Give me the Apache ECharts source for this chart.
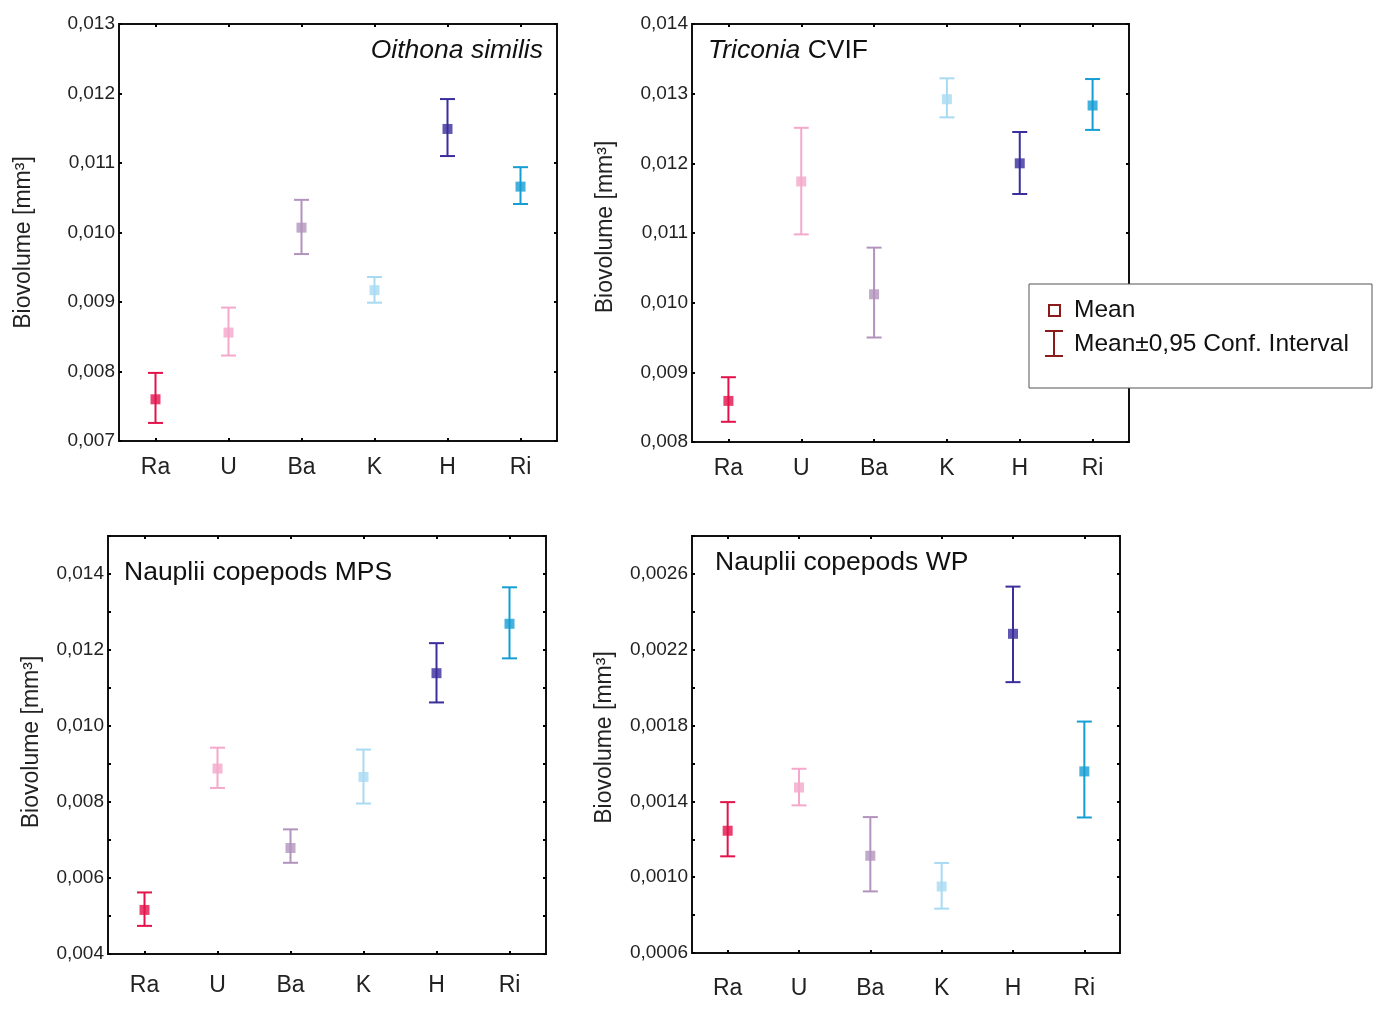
<!DOCTYPE html>
<html><head><meta charset="utf-8">
<script src="https://cdn.jsdelivr.net/npm/echarts@6/dist/echarts.min.js"></script>
<style>html,body{margin:0;background:#fff}#c{width:1373px;height:1009px}</style>
</head><body><div id="c"></div><script>
// ---- data ----
const categories = ['Ra', 'U', 'Ba', 'K', 'H', 'Ri'];
const catColors = ['#e3124b', '#f4a8cb', '#b193bd', '#a8daf2', '#3a2d9c', '#159ed4'];

const oithonaMean = [0.00760, 0.00856, 0.01007, 0.00917, 0.01149, 0.01066];
const oithonaLow  = [0.00726, 0.00823, 0.00969, 0.00899, 0.01110, 0.01041];
const oithonaHigh = [0.00798, 0.00892, 0.01047, 0.00936, 0.01192, 0.01094];

const triconiaMean = [0.00859, 0.01174, 0.01012, 0.01292, 0.01200, 0.01283];
const triconiaLow  = [0.00829, 0.01098, 0.00950, 0.01266, 0.01156, 0.01248];
const triconiaHigh = [0.00893, 0.01251, 0.01079, 0.01322, 0.01245, 0.01321];

const mpsMean = [0.00516, 0.00888, 0.00679, 0.00866, 0.01139, 0.01269];
const mpsLow  = [0.00474, 0.00837, 0.00640, 0.00796, 0.01062, 0.01178];
const mpsHigh = [0.00562, 0.00943, 0.00728, 0.00938, 0.01218, 0.01365];

const wpMean = [0.001245, 0.001473, 0.001113, 0.000951, 0.002284, 0.001558];
const wpLow  = [0.001110, 0.001379, 0.000925, 0.000834, 0.002029, 0.001315];
const wpHigh = [0.001396, 0.001572, 0.001317, 0.001075, 0.002533, 0.001821];

const yAxisName = 'Biovolume [mm³]';
const legendLabels = ['Mean', 'Mean±0,95 Conf. Interval'];

// ---- layout ----
const FONT = "'Liberation Sans', Arial, sans-serif";
const panels = [
  { mean: oithonaMean, low: oithonaLow, high: oithonaHigh,
    grid: { left: 119, top: 24, width: 438, height: 417 },
    y: { min: 0.007, max: 0.013, interval: 0.001 }, nameGap: 84, namePad: [0, 20, 0, 0], xMargin: 15,
    fmt: v => v.toFixed(3).replace('.', ',') },
  { mean: triconiaMean, low: triconiaLow, high: triconiaHigh,
    grid: { left: 692, top: 24, width: 437, height: 418 },
    y: { min: 0.008, max: 0.014, interval: 0.001 }, nameGap: 75, namePad: [0, 0, 0, 12], xMargin: 15,
    fmt: v => v.toFixed(3).replace('.', ',') },
  { mean: mpsMean, low: mpsLow, high: mpsHigh,
    grid: { left: 108, top: 536, width: 438, height: 418 },
    y: { min: 0.004, max: 0.015, interval: 0.001 }, nameGap: 65, namePad: [0, 0, 0, 6], xMargin: 20,
    fmt: v => (Math.round(v * 1000) % 2 === 0) ? v.toFixed(3).replace('.', ',') : '' },
  { mean: wpMean, low: wpLow, high: wpHigh,
    grid: { left: 692, top: 536, width: 428, height: 417 },
    y: { min: 0.0006, max: 0.0028, interval: 0.0002 }, nameGap: 76, namePad: [0, 0, 0, 14], xMargin: 24,
    fmt: v => (Math.round(v * 10000) % 4 === 2) ? v.toFixed(4).replace('.', ',') : '' }
];

const grids = [], xAxes = [], yAxes = [], series = [];
const tick = { show: true, inside: true, length: 3, lineStyle: { color: '#000', width: 2 } };

function renderErr(params, api) {
  const x = api.value(0), lo = api.value(1), hi = api.value(2);
  const pLo = api.coord([x, lo]), pHi = api.coord([x, hi]);
  const hw = 7.5;
  const style = { stroke: api.visual('color'), lineWidth: 2 };
  return { type: 'group', children: [
    { type: 'line', shape: { x1: pLo[0], y1: pLo[1], x2: pHi[0], y2: pHi[1] }, style },
    { type: 'line', shape: { x1: pLo[0] - hw, y1: pLo[1], x2: pLo[0] + hw, y2: pLo[1] }, style },
    { type: 'line', shape: { x1: pHi[0] - hw, y1: pHi[1], x2: pHi[0] + hw, y2: pHi[1] }, style }
  ]};
}

panels.forEach((p, i) => {
  grids.push(Object.assign({ show: true, borderColor: '#111', borderWidth: 2, backgroundColor: 'transparent' }, p.grid));
  xAxes.push({ type: 'category', gridIndex: i, data: categories, position: 'bottom',
    axisLine: { show: false }, axisTick: Object.assign({ alignWithLabel: true }, tick),
    axisLabel: { color: '#222', fontSize: 23, fontFamily: FONT, margin: p.xMargin } });
  xAxes.push({ type: 'category', gridIndex: i, data: categories, position: 'top',
    axisLine: { show: false }, axisTick: Object.assign({ alignWithLabel: true }, tick),
    axisLabel: { show: false } });
  yAxes.push({ type: 'value', gridIndex: i, position: 'left', min: p.y.min, max: p.y.max, interval: p.y.interval,
    splitLine: { show: false }, axisLine: { show: false }, axisTick: tick,
    axisLabel: { color: '#222', fontSize: 19, fontFamily: FONT, margin: 4, formatter: p.fmt },
    name: yAxisName, nameLocation: 'middle', nameGap: p.nameGap,
    nameTextStyle: { color: '#222', fontSize: 23, fontFamily: FONT, padding: p.namePad } });
  yAxes.push({ type: 'value', gridIndex: i, position: 'right', min: p.y.min, max: p.y.max, interval: p.y.interval,
    splitLine: { show: false }, axisLine: { show: false }, axisTick: tick, axisLabel: { show: false } });

  series.push({ type: 'custom', xAxisIndex: 2 * i, yAxisIndex: 2 * i, renderItem: renderErr,
    data: categories.map((c, k) => ({ value: [k, p.low[k], p.high[k]], itemStyle: { color: catColors[k] } })),
    z: 2, silent: true });
  series.push({ type: 'scatter', xAxisIndex: 2 * i, yAxisIndex: 2 * i, symbol: 'rect', symbolSize: 10,
    data: categories.map((c, k) => ({ value: [k, p.mean[k]], itemStyle: { color: catColors[k] } })),
    z: 3, silent: true });
});

const titleFont = '26.5px ' + FONT;
const legendFont = '24.5px ' + FONT;
const graphic = [
  { type: 'text', right: 1373 - 543, top: 37, style: { text: 'Oithona similis', font: 'italic ' + titleFont, fill: '#111' } },
  { type: 'text', left: 708, top: 37, style: { text: '{i|Triconia} CVIF', font: titleFont, fill: '#111',
      rich: { i: { fontStyle: 'italic', fontSize: 26.5, fontFamily: FONT, fill: '#111' } } } },
  { type: 'text', left: 124, top: 559, style: { text: 'Nauplii copepods MPS', font: titleFont, fill: '#111' } },
  { type: 'text', left: 715, top: 549, style: { text: 'Nauplii copepods WP', font: titleFont, fill: '#111' } },
  // legend
  { type: 'rect', z: 100, shape: { x: 1029, y: 284, width: 343, height: 104 },
    style: { fill: '#fff', stroke: '#555', lineWidth: 1 } },
  { type: 'rect', z: 101, shape: { x: 1049, y: 305, width: 11, height: 11 },
    style: { fill: 'none', stroke: '#8b1a1a', lineWidth: 2 } },
  { type: 'text', z: 101, left: 1074, top: 298, style: { text: legendLabels[0], font: legendFont, fill: '#111' } },
  { type: 'line', z: 101, shape: { x1: 1054, y1: 331, x2: 1054, y2: 356 }, style: { stroke: '#8b1a1a', lineWidth: 2 } },
  { type: 'line', z: 101, shape: { x1: 1045, y1: 331, x2: 1063, y2: 331 }, style: { stroke: '#8b1a1a', lineWidth: 2 } },
  { type: 'line', z: 101, shape: { x1: 1045, y1: 356, x2: 1063, y2: 356 }, style: { stroke: '#8b1a1a', lineWidth: 2 } },
  { type: 'text', z: 101, left: 1074, top: 332, style: { text: legendLabels[1], font: legendFont, fill: '#111' } }
];

const chart = echarts.init(document.getElementById('c'), null, { renderer: 'canvas' });
chart.setOption({ animation: false, backgroundColor: '#fff', grid: grids, xAxis: xAxes, yAxis: yAxes, series, graphic });
</script></body></html>
